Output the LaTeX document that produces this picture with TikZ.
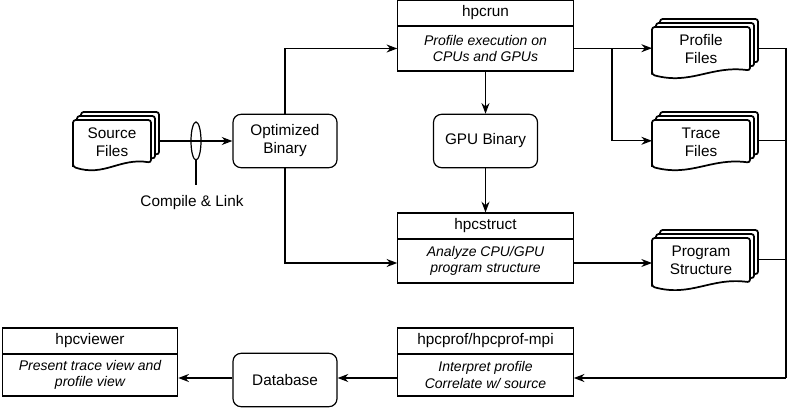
\documentclass[tikz,border=0pt]{standalone}
\usepackage{fontspec}
\setmainfont{Liberation Sans}
\usetikzlibrary{arrows.meta}
\tikzset{
 ln/.style={line width=0.9pt},
 arr/.style={ln,-{Stealth[length=8pt,width=6pt]}},
 title/.style={draw,ln,fill=white,minimum width=131.5pt,minimum height=19.5pt,inner sep=0pt,font=\fontsize{11.5}{13}\selectfont},
 body/.style={draw,ln,fill=white,minimum width=131.5pt,align=center,inner sep=0pt,font=\itshape\fontsize{10.5}{12.5}\selectfont},
 rbox/.style={draw,ln,fill=white,rounded corners=6pt,minimum width=78pt,minimum height=40pt,align=center,font=\fontsize{11.5}{13.5}\selectfont},
 doctext/.style={align=center,font=\fontsize{11.5}{13.5}\selectfont,inner sep=0pt},
 docline/.style={draw,line width=1.3pt,fill=white,rounded corners=2pt},
}
\newcommand\docstack[6]{%
 \foreach \k in {2,1,0}{%
  \begin{scope}[shift={(#2+4*\k,#3-4*\k)}]
   \path[docline] (0,0.85*#5) -- (0,0) -- (#4,0) -- (#4,0.82*#5) .. controls (0.6*#4,0.72*#5) and (0.4*#4,1.1*#5) .. (0,0.9*#5) -- cycle;
  \end{scope}}
 \node[doctext] (#1) at (#2+#4/2,#3+0.42*#5) {#6};
 \coordinate (#1w) at (#2,#3+0.4*#5);
 \coordinate (#1e) at (#2+#4+8,#3+0.4*#5);
}
\begin{document}
\begin{tikzpicture}[x=0.75pt,y=-0.75pt]
\useasboundingbox (0,0) rectangle (798,413);
\docstack{src}{73}{120}{78}{52}{Source\\Files}
\docstack{prof}{652}{27}{98}{53}{Profile\\Files}
\docstack{trace}{652}{120}{98}{52}{Trace\\Files}
\docstack{prog}{652}{238}{98}{54}{Program\\Structure}
\node[rbox] (opt) at (285,141) {Optimized\\Binary};
\node[rbox] (gpu) at (485.5,141) {GPU Binary};
\node[rbox] (db) at (285,380) {Database};
\node[title] (runT) at (485.5,13) {hpcrun};
\node[body,minimum height=33.75pt] (run) at (485.5,48.5) {Profile execution on\\CPUs and GPUs};
\node[title] (structT) at (485.5,226) {hpcstruct};
\node[body,minimum height=33pt] (struct) at (485.5,261) {Analyze CPU/GPU\\program structure};
\node[title] (profT) at (485.5,341) {hpcprof/hpcprof-mpi};
\node[body,minimum height=31.5pt] (hprof) at (485.5,375) {Interpret profile\\Correlate w/ source};
\node[title] (viewT) at (90,341) {hpcviewer};
\node[body,minimum height=31.5pt] (view) at (90,375) {Present trace view and\\profile view};
% compile
\draw[arr] (srce |- opt.west) -- (opt.west);
\draw[ln] (196,141) ellipse [x radius=5, y radius=19];
\draw[ln] (196,160) -- (196,185) coordinate (clk);
\node[font=\fontsize{11.5}{13}\selectfont,anchor=north] (cl) at (192,191) {Compile \& Link};
\draw[arr] (opt.north) |- (run.west);
\draw[arr] (opt.south) |- ([yshift=-1.5pt]struct.west);
\draw[arr] (run.south) -- (gpu.north);
\draw[arr] (gpu.south) -- (structT.north);
\draw[arr] (run.east |- profw) -- (profw);
\coordinate (br) at (612,0 |- profw);
\draw[arr] (br) |- (tracew);
\draw[arr] ([yshift=-1.5pt]struct.east) -- ([yshift=-1.5pt]struct.east -| progw);
\coordinate (rt) at (786,378);
\draw[ln] (profe) -| (rt);
\draw[ln] (tracee) -- (tracee -| rt);
\draw[ln] (proge) -- (proge -| rt);
\draw[arr] (rt) -- (rt -| hprof.east);
\draw[arr] (rt -| hprof.west) -- (rt -| db.east);
\draw[arr] (rt -| db.west) -- (rt -| view.east);
\end{tikzpicture}
\end{document}
